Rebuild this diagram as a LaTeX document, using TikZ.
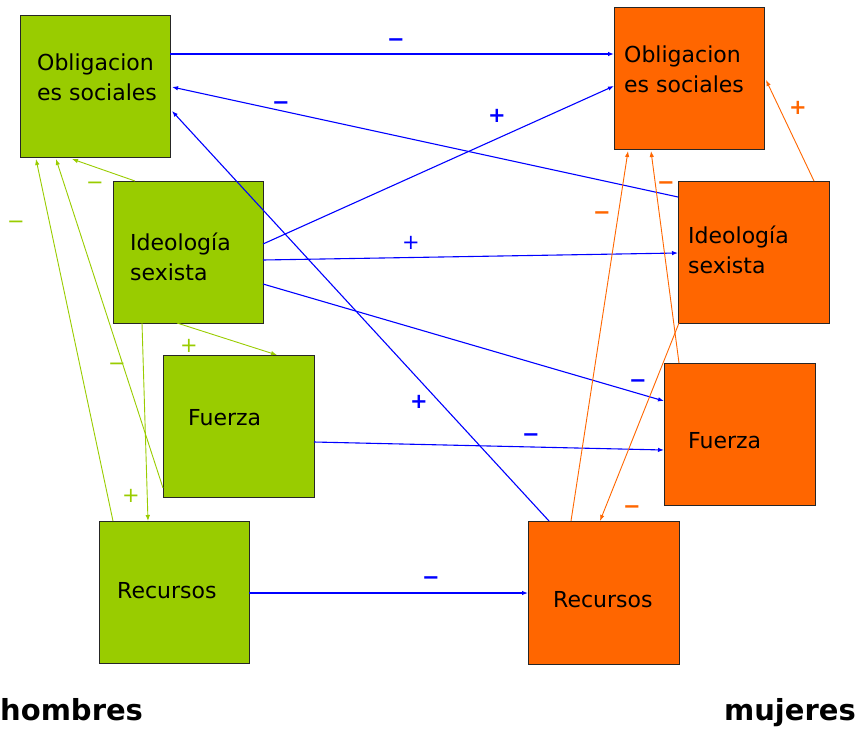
\documentclass[tikz,border=0pt]{standalone}
\usepackage{fontspec}
\setmainfont{DejaVu Sans}
\usetikzlibrary{arrows.meta}
\definecolor{gr}{HTML}{99CC00}
\definecolor{og}{HTML}{FF6600}
\definecolor{bl}{HTML}{0000FF}
\begin{document}
\begin{tikzpicture}[x=1pt,y=-1pt,
  box/.style={draw=black!85,line width=0.8pt,inner sep=0pt,outer sep=0pt,anchor=north west,minimum width=150pt,minimum height=142pt},
  gbox/.style={box,fill=gr},
  obox/.style={box,fill=og},
  txt/.style={anchor=base west,inner sep=0pt,font=\fontsize{22}{30}\selectfont,align=left},
  ttl/.style={inner sep=0pt,font=\fontsize{29}{34}\selectfont\bfseries},
  arr/.style={-{Latex[length=6pt,width=4.5pt]}},
  barr/.style={arr,draw=bl,line width=1.1pt},
  garr/.style={arr,draw=gr,line width=0.9pt},
  oarr/.style={arr,draw=og,line width=0.9pt},
  sgn/.style={inner sep=0pt,font=\fontsize{21}{21}\selectfont},
  bsgn/.style={sgn,font=\fontsize{21}{21}\selectfont\bfseries},
  mn/.style={yshift=-3pt}
]
\useasboundingbox (0,0) rectangle (856,728);
% boxes
\node[gbox] (gobl) at (20,15) {};
\node[gbox] (gide) at (113,181) {};
\node[gbox,minimum width=151pt] (gfue) at (163,355) {};
\node[gbox] (grec) at (99,521) {};
\node[obox] (oobl) at (614,7) {};
\node[obox,minimum width=151pt] (oide) at (678,181) {};
\node[obox,minimum width=151pt] (ofue) at (664,363) {};
\node[obox,minimum width=151pt,minimum height=143pt] (orec) at (528,521) {};
% texts
\node[txt] (tgobl) at (37,100) {Obligacion\\es sociales};
\node[txt] (tgide) at (130,280) {Ideología\\sexista};
\node[txt] (tgfue) at (188,425) {Fuerza};
\node[txt] (tgrec) at (117,598) {Recursos};
\node[txt] (toobl) at (624,92) {Obligacion\\es sociales};
\node[txt] (toide) at (688,273) {Ideología\\sexista};
\node[txt] (tofue) at (688,448) {Fuerza};
\node[txt] (torec) at (553,607) {Recursos};
\node[ttl,anchor=base west] (hom) at (0,720) {hombres};
\node[ttl,anchor=base east] (muj) at (856,720) {mujeres};
% blue connectors
\draw[barr] ([yshift=-39pt]gobl.north east) -- ([yshift=-47pt]oobl.north west);
\draw[barr] ([yshift=-16pt]oide.north west) -- ([xshift=2pt,yshift=-72pt]gobl.north east);
\draw[barr] ([yshift=-63pt]gide.north east) -- ([yshift=-79pt]oobl.north west);
\draw[barr] ([yshift=-79pt]gide.north east) -- ([yshift=-72pt]oide.north west);
\draw[barr] ([yshift=-103pt]gide.north east) -- ([yshift=-38pt]ofue.north west);
\draw[barr] ([yshift=-87pt]gfue.north east) -- ([yshift=-87pt]ofue.north west);
\draw[barr] ([xshift=21pt]orec.north west) -- ([xshift=2pt,yshift=-96pt]gobl.north east);
\draw[barr] ([yshift=-72pt]grec.north east) -- ([yshift=-72pt]orec.north west);
% green connectors
\draw[garr] ([xshift=22pt]gide.north west) -- ([xshift=52pt,yshift=-2pt]gobl.south west);
\draw[garr] ([xshift=14pt]grec.north west) -- ([xshift=16pt,yshift=-2pt]gobl.south west);
\draw[garr] ([yshift=-133pt]gfue.north west) -- ([xshift=36pt,yshift=-2pt]gobl.south west);
\draw[garr] ([xshift=29pt]gide.south west) -- ([xshift=49pt]grec.north west);
\draw[garr] ([xshift=64pt]gide.south west) -- ([xshift=114pt]gfue.north west);
% orange connectors
\draw[oarr] ([xshift=136pt]oide.north west) -- ([xshift=2pt,yshift=-73pt]oobl.north east);
\draw[oarr] ([xshift=43pt]orec.north west) -- ([xshift=14pt,yshift=-2pt]oobl.south west);
\draw[oarr] ([xshift=15pt]ofue.north west) -- ([xshift=37pt,yshift=-2pt]oobl.south west);
\draw[oarr] ([xshift=1pt]oide.south west) -- ([xshift=72pt]orec.north west);
% signs
\node[bsgn,mn,text=bl] (s1) at (396,40) {−};
\node[bsgn,mn,text=bl] (s2) at (281,103) {−};
\node[bsgn,text=bl] (s3) at (497,116) {+};
\node[sgn,text=bl] (s4) at (411,243) {+};
\node[bsgn,mn,text=bl] (s5) at (638,381) {−};
\node[bsgn,mn,text=bl] (s6) at (531,435) {−};
\node[bsgn,text=bl] (s7) at (419,402) {+};
\node[bsgn,mn,text=bl] (s8) at (431,578) {−};
\node[sgn,mn,text=gr] (s9) at (95,183) {−};
\node[sgn,mn,text=gr] (s10) at (16,222) {−};
\node[sgn,mn,text=gr] (s11) at (117,364) {−};
\node[sgn,text=gr] (s12) at (131,496) {+};
\node[sgn,text=gr] (s13) at (189,346) {+};
\node[bsgn,text=og] (s14) at (798,108) {+};
\node[bsgn,mn,text=og] (s15) at (602,213) {−};
\node[bsgn,mn,text=og] (s16) at (666,183) {−};
\node[bsgn,mn,text=og] (s17) at (632,507) {−};
\end{tikzpicture}
\end{document}
